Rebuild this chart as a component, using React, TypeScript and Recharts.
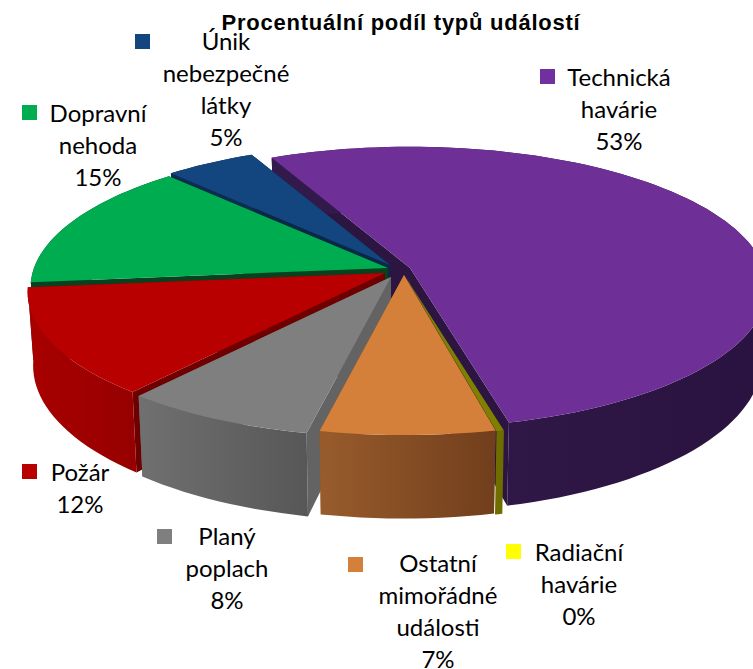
import React from "react";
import { PieChart, Pie } from "recharts";

const W = 753;
const H = 669;

// Chart data, in drawing order (back to front)
const categories = ["Technická havárie", "Únik nebezpečné látky", "Dopravní nehoda", "Požár", "Planý poplach", "Ostatní mimořádné události", "Radiační havárie"];
const values = [53.4, 4.7, 14.7, 12.4, 7.7, 6.9, 0.3];
const valueLabels = ["53%", "5%", "15%", "12%", "8%", "7%", "0%"];
const labelLines = [["Technická", "havárie"], ["Únik", "nebezpečné", "látky"], ["Dopravní", "nehoda"], ["Požár"], ["Planý", "poplach"], ["Ostatní", "mimořádné", "události"], ["Radiační", "havárie"]];

// Styling
const legendColors = ["#7030a0", "#13467f", "#00ac50", "#b90000", "#7f7f7f", "#d4803a", "#ffff00"];
const topColors = ["#6e2f96", "#13467f", "#00ac50", "#b90000", "#7f7f7f", "#d4803a", "#7f7f00"];
const edgeColors = ["#2c1541", "#0a2847", "#06421f", "#6e0000", "#636363", "#8a5520", "#6e6e00"];
const wallFrom = ["#331a4c", "#0c2c50", "#06421f", "#a80000", "#707070", "#985c2c", "#6e6e00"];
const wallTo = ["#2a1340", "#0c2c50", "#06421f", "#960000", "#575757", "#713e1c", "#6e6e00"];
const hasCutFaces = [true, true, true, true, true, true, false];

// Layout: apex shift per slice, label anchors
const apexShift = [[14, -4], [-6, -7], [-8, -4], [-11, 1], [-5, 5], [8, 3], [9, 4]];
const labelX = [619, 226, 98, 80, 227, 438, 579];
const labelY = [86, 50, 122, 481, 545, 572, 561];
const squareX = [540, 135, 22, 22, 157, 348, 506];
const squareY = [69, 34, 105, 464, 529, 557, 544];

const CX = 396;
const CY = 272;
const RX = 354;
const RY = 138;
const PERSP = 0.138;
const DEPTH = 72;
const RAD = Math.PI / 180;

const rows = categories.map((name, i) => ({ name, value: values[i], idx: i }));
const startDeg = -76;

function point(ax: number, ay: number, deg: number) {
  const u = Math.cos(deg * RAD);
  const v = Math.sin(deg * RAD);
  const s = 1 / (1 + PERSP * v);
  return { x: ax + RX * u * s, y: ay - RY * v * s, s };
}
function lower(p: { x: number; y: number; s: number }) {
  return { x: CX + (p.x - CX) * 0.985, y: p.y + DEPTH * p.s, s: p.s };
}
const toPath = (pts: { x: number; y: number }[]) =>
  pts.map((p, i) => `${i ? "L" : "M"}${p.x.toFixed(1)} ${p.y.toFixed(1)}`).join(" ") + " Z";

function Slice3D(props: any) {
  const i: number = props.payload?.idx ?? props.idx ?? props.index ?? 0;
  const a0: number = props.startAngle;
  const a1: number = props.endAngle;
  const ax = props.cx + apexShift[i][0];
  const ay = props.cy + apexShift[i][1];
  const n = Math.max(2, Math.ceil(Math.abs(a1 - a0) / 2));
  const rim: { x: number; y: number; s: number }[] = [];
  for (let k = 0; k <= n; k++) rim.push(point(ax, ay, a0 + ((a1 - a0) * k) / n));
  const apex = { x: ax, y: ay, s: 1 };
  const apexLow = lower(apex);
  const rimLow = rim.map(lower);
  const gid = `wall-${i}`;
  return (
    <g>
      <defs>
        <linearGradient id={gid} x1="0" y1="0" x2="1" y2="0">
          <stop offset="0" stopColor={wallFrom[i]} />
          <stop offset="1" stopColor={wallTo[i]} />
        </linearGradient>
      </defs>
      {hasCutFaces[i] && <path d={toPath([apex, rim[0], rimLow[0], apexLow])} fill={edgeColors[i]} />}
      {hasCutFaces[i] && <path d={toPath([apex, rim[n], rimLow[n], apexLow])} fill={edgeColors[i]} />}
      <path d={toPath([...rim, ...rimLow.slice().reverse()])} fill={`url(#${gid})`} />
      <path d={toPath([apex, ...rim])} fill={topColors[i]} />
    </g>
  );
}

function SliceLabel(props: any) {
  const i: number = props.payload?.idx ?? props.index ?? 0;
  const lines = [...labelLines[i], valueLabels[i]];
  return (
    <g>
      <rect x={squareX[i]} y={squareY[i]} width={15} height={15} fill={legendColors[i]} />
      <text textAnchor="middle" fontFamily="Lato, sans-serif" fontSize={24} fill="#000">
        {lines.map((t, k) => (
          <tspan key={k} x={labelX[i]} y={labelY[i] + k * 32}>{t}</tspan>
        ))}
      </text>
    </g>
  );
}

export default function App() {
  return (
    <div style={{ position: "absolute", left: 0, top: 0, width: W, height: H, background: "#fff", overflow: "hidden" }}>
      <PieChart width={W} height={H} margin={{ top: 0, right: 0, bottom: 0, left: 0 }}>
        <Pie
          data={rows}
          dataKey="value"
          nameKey="name"
          cx={CX}
          cy={CY}
          outerRadius={300}
          startAngle={startDeg}
          endAngle={startDeg + 360}
          paddingAngle={0}
          isAnimationActive={false}
          shape={Slice3D}
          label={SliceLabel}
          labelLine={false}
        />
        <text x={401} y={30} textAnchor="middle" fontFamily="Liberation Sans, Arial, sans-serif" fontWeight="bold" fontSize={22} letterSpacing={0.75} fill="#000">
          Procentuální podíl typů událostí
        </text>
      </PieChart>
    </div>
  );
}
